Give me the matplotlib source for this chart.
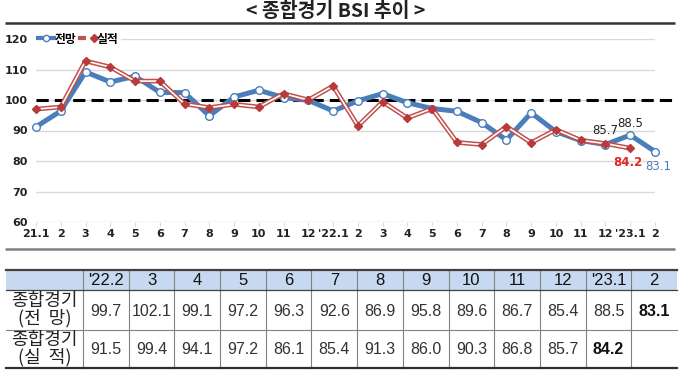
import numpy as np
import matplotlib
matplotlib.use("Agg")
import matplotlib.pyplot as plt
from matplotlib.lines import Line2D
from matplotlib.legend_handler import HandlerTuple
from matplotlib.patches import Rectangle

plt.rcParams['font.family'] = ['Noto Sans CJK KR', 'DejaVu Sans']

# ---------------- data ----------------
x_labels = ["21.1", "2", "3", "4", "5", "6", "7", "8", "9", "10", "11", "12",
            "'22.1", "2", "3", "4", "5", "6", "7", "8", "9", "10", "11", "12",
            "'23.1", "2"]
outlook = [91.2, 96.4, 109.2, 105.9, 107.8, 102.5, 102.4, 94.8, 101.0, 103.2, 100.8, 99.9,
           96.4, 99.7, 102.1, 99.1, 97.2, 96.3, 92.6, 86.9, 95.8, 89.6, 86.7, 85.4,
           88.5, 83.1]
actual = [97.0, 97.7, 112.8, 110.8, 106.2, 106.2, 98.7, 97.5, 98.6, 97.7, 102.1, 100.0,
          104.6, 91.5, 99.4, 94.1, 97.2, 86.1, 85.4, 91.3, 86.0, 90.3, 86.8, 85.7,
          84.2, np.nan]
table_headers = ["'22.2", "3", "4", "5", "6", "7", "8", "9", "10", "11", "12", "'23.1", "2"]
row_labels = ["종합경기\n(전  망)", "종합경기\n(실  적)"]
series_names = ["전망", "실적"]
title = "< 종합경기 BSI 추이 >"
baseline = 100
yticks = [60, 70, 80, 90, 100, 110, 120]

BLUE = "#4a7ebb"
RED = "#c0504d"
TICKFONT = ['DejaVu Sans Condensed', 'DejaVu Sans']
CELLFONT = ['Liberation Sans', 'DejaVu Sans']

W, H = 680, 373
fig = plt.figure(figsize=(W / 100, H / 100), dpi=100)

# ---------------- overlay (title, rules, table) ----------------
ov = fig.add_axes([0, 0, 1, 1])
ov.set_xlim(0, W)
ov.set_ylim(H, 0)
ov.axis('off')

ov.text(336, 11.5, title, ha='center', va='center', fontsize=14, fontweight='bold',
        color='#222222')
ov.plot([5, 675], [22.5, 22.5], color='#333333', lw=1.8, solid_capstyle='butt')
ov.plot([5, 675], [248.5, 248.5], color='#808080', lw=1.8, solid_capstyle='butt')

# table geometry
tx0, tx1 = 6, 677
c0 = 83
ncol = len(table_headers)
cw = (tx1 - c0) / ncol
r0, r1, r2, r3 = 270, 290, 330, 368

ov.add_patch(Rectangle((tx0, r0), tx1 - tx0, r1 - r0, facecolor='#c6d9f1',
                       edgecolor='none', zorder=1))
ov.plot([tx0, tx1], [r0, r0], color='#404040', lw=1.6, zorder=3)
ov.plot([tx0, tx1], [r1, r1], color='#404040', lw=0.9, zorder=3)
ov.plot([tx0, tx1], [r2, r2], color='#808080', lw=0.8, zorder=3)
ov.plot([tx0, tx1], [r3, r3], color='#303030', lw=1.6, zorder=3)
for i in range(ncol):
    xv = c0 + i * cw
    ov.plot([xv, xv], [r0, r3], color='#808080', lw=0.8, zorder=2)

n_tab = len(table_headers)
tab_out = outlook[-n_tab:]
tab_act = actual[-n_tab:]
valid_act = np.where(~np.isnan(np.array(tab_act)))[0]
for i, hdr in enumerate(table_headers):
    cx = c0 + (i + 0.5) * cw
    ov.text(cx, (r0 + r1) / 2 + 0.5, hdr, ha='center', va='center', fontsize=12,
            family=CELLFONT, color='#111111')
    bold_o = (i == n_tab - 1)
    ov.text(cx, (r1 + r2) / 2 + 1, f"{tab_out[i]:.1f}", ha='center', va='center',
            fontsize=11.5, family=CELLFONT,
            fontweight='bold' if bold_o else 'normal',
            color='#111111' if bold_o else '#333333')
    if not np.isnan(tab_act[i]):
        last_a = (i == valid_act[-1])
        ov.text(cx, (r2 + r3) / 2 + 1, f"{tab_act[i]:.1f}", ha='center', va='center',
                fontsize=11.5, family=CELLFONT,
                fontweight='bold' if last_a else 'normal',
                color='#111111' if last_a else '#333333')
ov.text((tx0 + c0) / 2, (r1 + r2) / 2, row_labels[0], ha='center', va='center',
        fontsize=13, linespacing=0.9, color='#222222')
ov.text((tx0 + c0) / 2, (r2 + r3) / 2, row_labels[1], ha='center', va='center',
        fontsize=13, linespacing=0.9, color='#222222')

# ---------------- chart ----------------
ax = fig.add_axes([36 / W, 1 - 222 / H, (655 - 36) / W, (222 - 39) / H])
xs = np.arange(len(x_labels))
ax.set_xlim(0, len(x_labels) - 1)
ax.set_ylim(60, 120)
ax.set_yticks(yticks)
ax.set_xticks(xs)
ax.set_xticklabels(x_labels)
for s in ax.spines.values():
    s.set_visible(False)
ax.grid(axis='y', color='#d9d9d9', lw=1.0)
ax.set_axisbelow(True)
ax.tick_params(axis='y', length=0, pad=6, labelsize=8, labelcolor='#222222')
ax.tick_params(axis='x', length=3, color='#d9d9d9', pad=2, labelsize=8,
               labelcolor='#222222')
for lab in ax.get_xticklabels() + ax.get_yticklabels():
    lab.set_family(TICKFONT)
    lab.set_fontweight('bold')

ax.axhline(baseline, xmin=0, xmax=1.03, color='black', lw=2.2, dashes=(4, 2),
           clip_on=False, zorder=2)

lb, = ax.plot(xs, outlook, color=BLUE, lw=3.6, marker='o', ms=5.5, mfc='white',
              mec=BLUE, mew=1.0, zorder=3, clip_on=False)
r_thick, = ax.plot(xs, actual, color=RED, lw=3.4, zorder=4, clip_on=False)
r_thin, = ax.plot(xs, actual, color='white', lw=1.2, zorder=5, clip_on=False)
r_mk, = ax.plot(xs, actual, ls='none', marker='D', ms=4.5, color='#b83a3a', zorder=6,
                clip_on=False)

# data labels
ax.annotate("85.7", (xs[23], outlook[23]), xytext=(0, 10), textcoords='offset points',
            ha='center', va='center', fontsize=8.5, family=TICKFONT, color='#222222')
ax.annotate(f"{outlook[24]:.1f}", (xs[24], outlook[24]), xytext=(0, 8),
            textcoords='offset points', ha='center', va='center', fontsize=8.5,
            family=TICKFONT, color='#222222')
ax.annotate(f"{actual[24]:.1f}", (xs[24], actual[24]), xytext=(-2, -10),
            textcoords='offset points', ha='center', va='center', fontsize=8.5,
            family=TICKFONT, color='#e02828', fontweight='bold')
ax.annotate(f"{outlook[25]:.1f}", (xs[25], outlook[25]), xytext=(2, -11),
            textcoords='offset points', ha='center', va='center', fontsize=8.5,
            family=TICKFONT, color=BLUE)

h_blue = Line2D([], [], color=BLUE, lw=3, marker='o', ms=4.5, mfc='white', mec=BLUE)
h_r1 = Line2D([], [], color=RED, lw=3)
h_r2 = Line2D([], [], color='white', lw=1)
h_r3 = Line2D([], [], ls='none', marker='D', ms=4, color='#b83a3a')
leg = ax.legend([(h_blue,), (h_r1, h_r2, h_r3)], series_names,
                handler_map={tuple: HandlerTuple(ndivide=None)},
                loc='center left', bbox_to_anchor=(0.0, 1.0), ncol=2,
                frameon=True, facecolor='white', edgecolor='none', framealpha=1,
                fontsize=8.5, handlelength=1.3, handletextpad=0.1, columnspacing=0.3,
                borderpad=0.2, borderaxespad=0.0)
for t in leg.get_texts():
    t.set_fontweight('bold')

fig.savefig("out.png", dpi=100)
